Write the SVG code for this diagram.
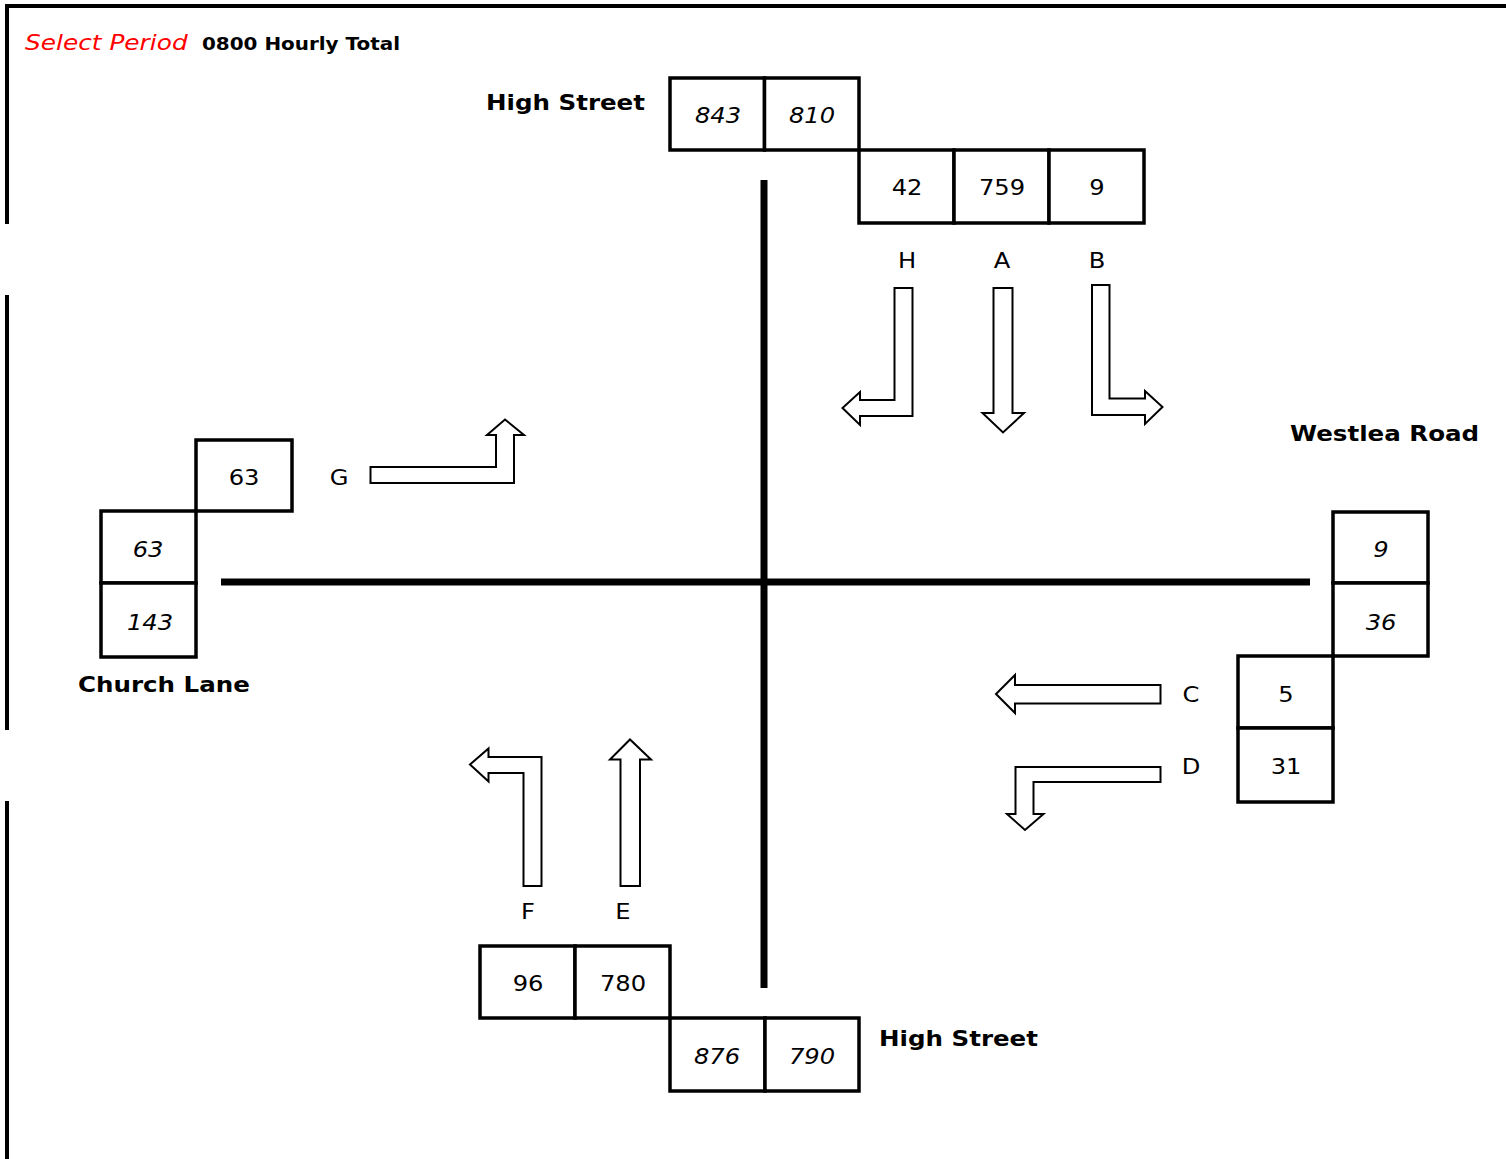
<svg xmlns="http://www.w3.org/2000/svg" width="1506" height="1159" viewBox="0 0 1506 1159">
<style>
  .cell { fill: #ffffff; stroke: #000000; stroke-width: 3.5; }
  .road { stroke: #000000; stroke-width: 7; fill: none; }
  .frame { stroke: #000000; stroke-width: 4; fill: none; }
  .arrow { fill: #ffffff; stroke: #000000; stroke-width: 2; stroke-linejoin: miter; }
  text { font-family: "DejaVu Sans", Verdana, sans-serif; fill: #000000; }
  .num { font-size: 20.5px; text-anchor: middle; }
  .it { font-style: italic; }
  .lbl { font-size: 20.8px; font-weight: bold; }
  .let { font-size: 20.5px; text-anchor: middle; }
</style>
<rect width="1506" height="1159" fill="#ffffff"/>
<g id="frame">
  <line class="frame" x1="5" y1="6" x2="1506" y2="6"/>
  <line class="frame" x1="7" y1="4" x2="7" y2="224"/>
  <line class="frame" x1="7" y1="295" x2="7" y2="730"/>
  <line class="frame" x1="7" y1="801" x2="7" y2="1159"/>
</g>
<g id="title">
  <text transform="translate(25,50) scale(1.16,1)" style="font-size:21.4px;font-style:italic;fill:#ff0000">Select Period</text>
  <text transform="translate(202,50) scale(1.18,1)" style="font-size:16.9px;font-weight:bold">0800 Hourly Total</text>
</g>
<g id="roads">
  <line class="road" x1="764" y1="180" x2="764" y2="988"/>
  <line class="road" x1="221" y1="582" x2="1310" y2="582"/>
</g>
<g id="connectors">
  <path id="arrow-H" class="arrow" d="M894.5,288 L912.5,288 L912.5,416 L860,416 L860,425 L842.5,408 L860,392 L860,400 L894.5,400 Z"/>
  <path id="arrow-A" class="arrow" d="M993.5,288 L1012.5,288 L1012.5,413 L1024,413 L1003,432.5 L982.5,413 L993.5,413 Z"/>
  <path id="arrow-B" class="arrow" d="M1092,285 L1109.5,285 L1109.5,398.5 L1145,398.5 L1145,391 L1162.5,407 L1145,424 L1145,415 L1092,415 Z"/>
  <path id="arrow-G" class="arrow" d="M370.5,467 L496,467 L496,435 L487,435 L505,419.5 L524,435 L514,435 L514,483 L370.5,483 Z"/>
  <path id="arrow-C" class="arrow" d="M1160.5,685 L1015,685 L1015,675 L996,694 L1015,713 L1015,703.5 L1160.5,703.5 Z"/>
  <path id="arrow-D" class="arrow" d="M1160.5,767 L1015.5,767 L1015.5,814 L1007,814 L1025,830 L1043.5,814 L1033.5,814 L1033.5,782 L1160.5,782 Z"/>
  <path id="arrow-F" class="arrow" d="M523.5,886 L541.5,886 L541.5,757 L488.5,757 L488.5,748.5 L470,764.5 L488.5,781.5 L488.5,773 L523.5,773 Z"/>
  <path id="arrow-E" class="arrow" d="M620.5,886 L640,886 L640,759.5 L651,759.5 L630,739.5 L610,759.5 L620.5,759.5 Z"/>
</g>
<g id="north">
  <text class="lbl" transform="translate(486,110) scale(1.18,1)">High Street</text>
  <rect class="cell" x="670" y="78" width="94.5" height="72"/>
  <rect class="cell" x="764.5" y="78" width="94.5" height="72"/>
  <text class="num it" transform="translate(718,123) scale(1.18,1)">843</text>
  <text class="num it" transform="translate(812,123) scale(1.18,1)">810</text>
  <rect class="cell" x="859" y="150" width="95" height="73"/>
  <rect class="cell" x="954" y="150" width="95" height="73"/>
  <rect class="cell" x="1049" y="150" width="95" height="73"/>
  <text class="num" transform="translate(907,195) scale(1.18,1)">42</text>
  <text class="num" transform="translate(1002,195) scale(1.18,1)">759</text>
  <text class="num" transform="translate(1097,195) scale(1.18,1)">9</text>
  <text class="let" transform="translate(907,268) scale(1.18,1)">H</text>
  <text class="let" transform="translate(1002,268) scale(1.18,1)">A</text>
  <text class="let" transform="translate(1097,268) scale(1.18,1)">B</text>
</g>
<g id="west">
  <rect class="cell" x="196" y="440" width="96" height="71"/>
  <text class="num" transform="translate(244,485) scale(1.18,1)">63</text>
  <text class="let" transform="translate(339,485) scale(1.18,1)">G</text>
  <rect class="cell" x="101" y="511" width="95" height="72"/>
  <rect class="cell" x="101" y="583" width="95" height="74"/>
  <text class="num it" transform="translate(148,557) scale(1.18,1)">63</text>
  <text class="num it" transform="translate(150,630) scale(1.18,1)">143</text>
  <text class="lbl" transform="translate(78,692) scale(1.18,1)">Church Lane</text>
</g>
<g id="east">
  <text class="lbl" transform="translate(1290,441) scale(1.18,1)">Westlea Road</text>
  <rect class="cell" x="1333" y="512" width="95" height="71"/>
  <rect class="cell" x="1333" y="583" width="95" height="73"/>
  <text class="num it" transform="translate(1381,557) scale(1.18,1)">9</text>
  <text class="num it" transform="translate(1381,630) scale(1.18,1)">36</text>
  <rect class="cell" x="1238" y="656" width="95" height="72"/>
  <rect class="cell" x="1238" y="728" width="95" height="74"/>
  <text class="num" transform="translate(1286,702) scale(1.18,1)">5</text>
  <text class="num" transform="translate(1286,774) scale(1.18,1)">31</text>
  <text class="let" transform="translate(1191,702) scale(1.18,1)">C</text>
  <text class="let" transform="translate(1191,774) scale(1.18,1)">D</text>
</g>
<g id="south">
  <text class="let" transform="translate(528,919) scale(1.18,1)">F</text>
  <text class="let" transform="translate(623,919) scale(1.18,1)">E</text>
  <rect class="cell" x="480" y="946" width="95" height="72"/>
  <rect class="cell" x="575" y="946" width="95" height="72"/>
  <text class="num" transform="translate(528,991) scale(1.18,1)">96</text>
  <text class="num" transform="translate(623,991) scale(1.18,1)">780</text>
  <rect class="cell" x="670" y="1018" width="95" height="73"/>
  <rect class="cell" x="765" y="1018" width="94" height="73"/>
  <text class="num it" transform="translate(717,1064) scale(1.18,1)">876</text>
  <text class="num it" transform="translate(812,1064) scale(1.18,1)">790</text>
  <text class="lbl" transform="translate(879,1046) scale(1.18,1)">High Street</text>
</g>
</svg>
